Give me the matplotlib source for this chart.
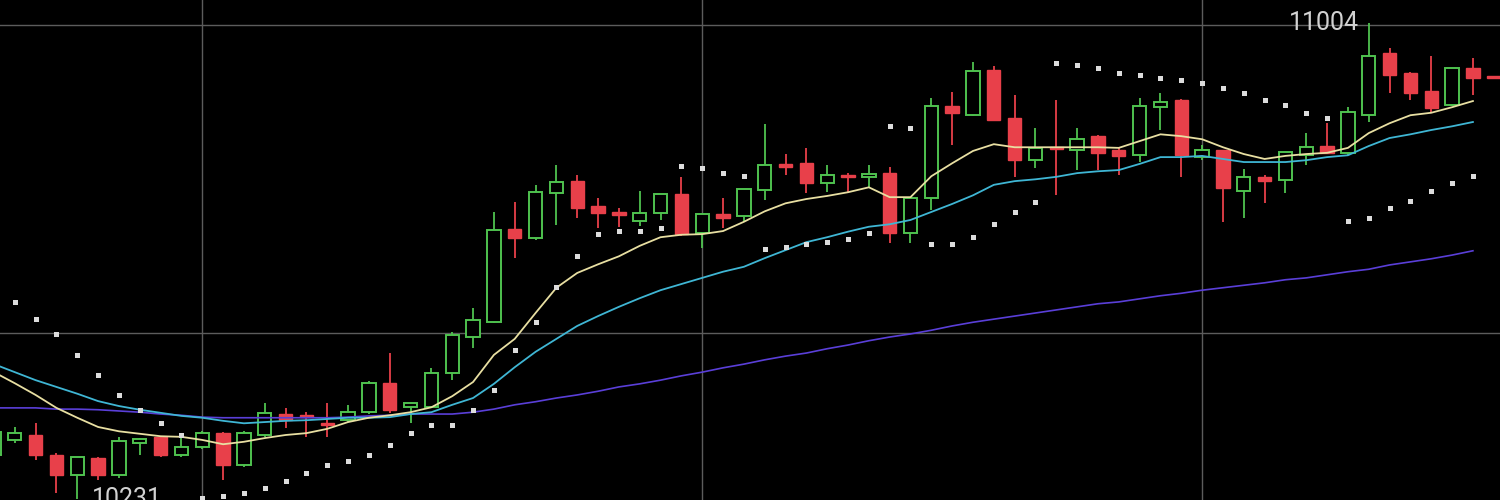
"""
Candlestick chart with parabolic SAR dots and three moving averages,
dark terminal style. Values read off a screenshot, one entry per bar.
"""

import numpy as np
import matplotlib
matplotlib.use("Agg")
import matplotlib.pyplot as plt

nan = np.nan

opens = [10302, 10327, 10335, 10302, 10270, 10298, 10270, 10322, 10332, 10302,
         10315, 10338, 10286, 10335, 10369, 10367, 10354, 10359, 10372, 10419,
         10380, 10380, 10436, 10494, 10518, 10669, 10655, 10728, 10747, 10707,
         10697, 10682, 10695, 10726, 10663, 10694, 10690, 10733, 10775, 10776,
         10744, 10757, 10754, 10760, 10663, 10720, 10869, 10854, 10927, 10849,
         10781, 10802, 10797, 10820, 10797, 10789, 10867, 10879, 10786, 10797,
         10731, 10754, 10749, 10789, 10804, 10793, 10854, 10955, 10922, 10893,
         10871, 10931, 10917]
highs = [10346, 10348, 10354, 10306, 10299, 10299, 10332, 10330, 10333, 10338,
         10341, 10340, 10341, 10387, 10379, 10372, 10387, 10384, 10423, 10468,
         10387, 10444, 10502, 10541, 10697, 10713, 10741, 10773, 10757, 10720,
         10703, 10731, 10726, 10754, 10694, 10720, 10734, 10840, 10791, 10801,
         10773, 10760, 10773, 10770, 10720, 10882, 10892, 10940, 10934, 10887,
         10833, 10879, 10833, 10822, 10802, 10882, 10890, 10880, 10806, 10798,
         10767, 10757, 10794, 10825, 10841, 10867, 11004, 10963, 10924, 10950,
         10931, 10947, 10918]
lows = [10294, 10322, 10294, 10241, 10231, 10262, 10265, 10302, 10299, 10299,
        10312, 10262, 10283, 10332, 10346, 10332, 10332, 10356, 10369, 10371,
        10354, 10379, 10424, 10476, 10516, 10622, 10651, 10676, 10687, 10671,
        10673, 10674, 10684, 10658, 10638, 10671, 10681, 10716, 10757, 10728,
        10729, 10729, 10737, 10647, 10647, 10700, 10806, 10852, 10844, 10754,
        10768, 10724, 10765, 10765, 10757, 10778, 10830, 10754, 10781, 10681,
        10687, 10711, 10728, 10773, 10792, 10789, 10843, 10890, 10879, 10859,
        10869, 10887, 10913]
closes = [10340, 10338, 10302, 10270, 10299, 10270, 10325, 10328, 10302, 10315,
          10338, 10286, 10338, 10371, 10359, 10364, 10351, 10372, 10419, 10376,
          10387, 10436, 10497, 10522, 10668, 10655, 10729, 10746, 10703, 10695,
          10692, 10695, 10726, 10661, 10694, 10687, 10734, 10773, 10770, 10744,
          10757, 10754, 10759, 10663, 10720, 10869, 10858, 10926, 10846, 10781,
          10801, 10799, 10815, 10793, 10788, 10869, 10875, 10789, 10797, 10736,
          10754, 10747, 10794, 10802, 10793, 10859, 10950, 10919, 10890, 10866,
          10931, 10914, 10914]

sar = [10577, 10551, 10523, 10499, 10465, 10432, 10400, 10376, 10354, 10335,
       10233, 10236, 10241, 10249, 10260, 10273, 10286, 10293, 10302, 10319,
       10338, 10351, 10351, 10376, 10408, 10473, 10518, 10575, 10625, 10661,
       10666, 10666, 10671, 10772, 10768, 10760, 10755, 10637, 10640, 10645,
       10648, 10653, 10663, 10836, 10833, 10645, 10645, 10656, 10677, 10697,
       10713, 10939, 10935, 10931, 10922, 10919, 10914, 10911, 10906, 10898,
       10890, 10879, 10871, 10858, 10849, 10682, 10687, 10703, 10715, 10731,
       10744, 10755, nan]

ma_fast = [10437, 10419, 10400, 10379, 10363, 10348, 10341, 10337, 10333, 10332,
           10327, 10320, 10324, 10330, 10335, 10338, 10345, 10356, 10363, 10367,
           10372, 10380, 10398, 10421, 10465, 10491, 10533, 10574, 10598, 10612,
           10625, 10642, 10656, 10660, 10661, 10666, 10681, 10698, 10711, 10718,
           10723, 10729, 10737, 10721, 10721, 10755, 10776, 10796, 10807, 10802,
           10802, 10802, 10802, 10802, 10801, 10812, 10823, 10820, 10815, 10802,
           10791, 10783, 10788, 10791, 10793, 10801, 10825, 10841, 10854, 10858,
           10867, 10877, nan]
ma_mid = [10450, 10437, 10424, 10413, 10402, 10390, 10382, 10376, 10371, 10366,
          10363, 10358, 10354, 10356, 10358, 10359, 10361, 10363, 10363, 10364,
          10369, 10372, 10384, 10395, 10418, 10445, 10470, 10491, 10512, 10528,
          10543, 10557, 10570, 10580, 10590, 10600, 10608, 10622, 10635, 10648,
          10656, 10665, 10673, 10677, 10684, 10697, 10710, 10724, 10741, 10747,
          10750, 10754, 10760, 10763, 10765, 10775, 10786, 10786, 10788, 10783,
          10778, 10778, 10778, 10781, 10786, 10789, 10804, 10817, 10823, 10830,
          10836, 10843, nan]
ma_slow = [10379, 10379, 10379, 10377, 10377, 10376, 10374, 10372, 10369, 10367,
           10364, 10363, 10363, 10363, 10363, 10363, 10363, 10364, 10366, 10367,
           10369, 10369, 10369, 10372, 10377, 10384, 10389, 10395, 10400, 10406,
           10413, 10418, 10424, 10431, 10437, 10444, 10450, 10457, 10463, 10468,
           10475, 10481, 10488, 10494, 10499, 10505, 10512, 10518, 10523, 10528,
           10533, 10538, 10543, 10548, 10551, 10556, 10561, 10565, 10570, 10574,
           10578, 10582, 10587, 10590, 10595, 10600, 10604, 10611, 10616, 10621,
           10627, 10634, nan]

grid_prices = [10500, 11000]
grid_bars = [10, 34, 58]

UP = "#4fc24f"
DOWN = "#e8404a"
BG = "black"


def main() -> None:
    o = np.array(opens, dtype=float)
    h = np.array(highs, dtype=float)
    lo = np.array(lows, dtype=float)
    c = np.array(closes, dtype=float)
    x = np.arange(len(o))
    up = c >= o

    fig = plt.figure(figsize=(15, 5), dpi=100, facecolor=BG)
    ax = fig.add_axes([0, 0, 1, 1], facecolor=BG)

    for p in grid_prices:
        ax.axhline(p, color="#5c5c5c", lw=1.0, zorder=0)
    for b in grid_bars:
        ax.axvline(b, color="#5c5c5c", lw=1.0, zorder=0)

    colors = np.where(up, UP, DOWN)
    ax.vlines(x, lo, h, colors=colors, lw=1.3, zorder=1)

    body_lo = np.minimum(o, c)
    body_h = np.maximum(np.abs(c - o), 2.5)
    ax.bar(x[up], body_h[up], bottom=body_lo[up], width=0.64,
           facecolor=BG, edgecolor=UP, linewidth=1.4, zorder=2)
    ax.bar(x[~up], body_h[~up], bottom=body_lo[~up], width=0.64,
           facecolor=DOWN, edgecolor=DOWN, linewidth=1.0, zorder=2)

    ax.plot(x, ma_slow, color="#5a3fd8", lw=1.2, zorder=3)
    ax.plot(x, ma_mid, color="#3fb6d4", lw=1.3, zorder=3)
    ax.plot(x, ma_fast, color="#e8dfa2", lw=1.3, zorder=3)

    ax.plot(x, sar, "s", color="#dcdcdc", ms=3.6, mew=0, zorder=4)

    hi_i = int(np.argmax(h))
    lo_i = int(np.argmin(lo))
    txt = dict(color="#d2d2d2", fontsize=18, family=["Roboto", "DejaVu Sans"],
               va="center", zorder=5)
    ax.text(hi_i - 0.45, h[hi_i], f"{h[hi_i]:.0f}", ha="right", **txt)
    ax.text(lo_i + 0.7, lo[lo_i], f"{lo[lo_i]:.0f}", ha="left", **txt)

    ax.set_xlim(0.29, 72.3)
    ax.set_ylim(10229.5, 11041)
    ax.axis("off")

    fig.savefig("out.png", dpi=100, facecolor=BG)
    plt.close(fig)


if __name__ == "__main__":
    main()
